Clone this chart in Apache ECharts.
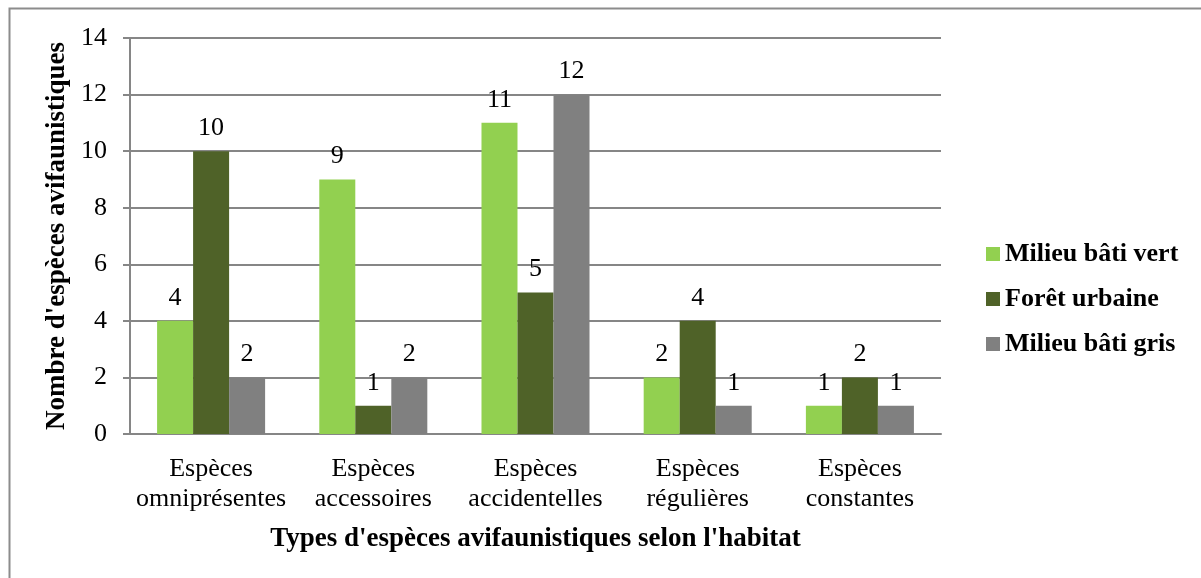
<!DOCTYPE html>
<html>
<head>
<meta charset="utf-8">
<script src="https://cdn.jsdelivr.net/npm/echarts@6/dist/echarts.min.js"></script>
<style>
  html, body { margin: 0; padding: 0; background: #fff; }
  #chart { width: 1201px; height: 578px; }
</style>
</head>
<body>
<div id="chart"></div>
<script>
// Bird species counts by occurrence type and habitat
const categories = [
  'Espèces\nomniprésentes',
  'Espèces\naccessoires',
  'Espèces\naccidentelles',
  'Espèces\nrégulières',
  'Espèces\nconstantes'
];
const seriesNames = ['Milieu bâti vert', 'Forêt urbaine', 'Milieu bâti gris'];
const milieuBatiVert = [4, 9, 11, 2, 1];
const foretUrbaine = [10, 1, 5, 4, 2];
const milieuBatiGris = [2, 2, 12, 1, 1];
const yTicks = [0, 2, 4, 6, 8, 10, 12, 14];

const colors = ['#92D050', '#4F6228', '#808080'];
const serif = '"Liberation Serif", "Times New Roman", serif';

const chart = echarts.init(document.getElementById('chart'), null, { renderer: 'canvas' });

function barSeries(name, data, color) {
  return {
    name: name,
    type: 'bar',
    data: data,
    barGap: '0%',
    barCategoryGap: '33.4%',
    itemStyle: { color: color },
    label: {
      show: true,
      position: 'top',
      distance: 10,
      fontFamily: serif,
      fontSize: 26,
      color: '#000'
    }
  };
}

chart.setOption({
  backgroundColor: '#fff',
  animation: false,
  graphic: [{
    type: 'rect',
    shape: { x: 9.5, y: 8.5, width: 1300, height: 700 },
    style: { fill: 'none', stroke: '#8c8c8c', lineWidth: 2 },
    silent: true
  }],
  grid: { left: 130, right: 260, top: 38, bottom: 144 },
  legend: {
    orient: 'vertical',
    left: 981,
    top: 236,
    itemWidth: 14,
    itemHeight: 14,
    itemGap: 19,
    icon: 'rect',
    data: seriesNames,
    textStyle: {
      fontFamily: serif,
      fontWeight: 'bold',
      fontSize: 26,
      color: '#000'
    }
  },
  xAxis: {
    type: 'category',
    data: categories,
    name: "Types d'espèces avifaunistiques selon l'habitat",
    nameLocation: 'middle',
    nameGap: 92,
    nameTextStyle: {
      fontFamily: serif,
      fontWeight: 'bold',
      fontSize: 27,
      color: '#000'
    },
    axisLine: { show: true, lineStyle: { color: '#868686', width: 2 } },
    axisTick: { show: false },
    axisLabel: {
      interval: 0,
      margin: 20,
      fontFamily: serif,
      fontSize: 26,
      lineHeight: 30,
      color: '#000'
    }
  },
  yAxis: {
    type: 'value',
    min: 0,
    max: 14,
    interval: 2,
    name: "Nombre d'espèces avifaunistiques",
    nameLocation: 'middle',
    nameGap: 57,
    nameTextStyle: {
      fontFamily: serif,
      fontWeight: 'bold',
      fontSize: 27,
      color: '#000'
    },
    axisLine: { show: true, lineStyle: { color: '#868686', width: 2 } },
    axisTick: { show: true, inside: false, length: 7, lineStyle: { color: '#868686', width: 2 } },
    splitLine: { show: true, lineStyle: { color: '#868686', width: 2 } },
    axisLabel: {
      margin: 23,
      fontFamily: serif,
      fontSize: 26,
      color: '#000',
      formatter: function (v) { return yTicks.indexOf(v) >= 0 ? String(v) : ''; }
    }
  },
  series: [
    barSeries(seriesNames[0], milieuBatiVert, colors[0]),
    barSeries(seriesNames[1], foretUrbaine, colors[1]),
    barSeries(seriesNames[2], milieuBatiGris, colors[2])
  ]
});
</script>
</body>
</html>
